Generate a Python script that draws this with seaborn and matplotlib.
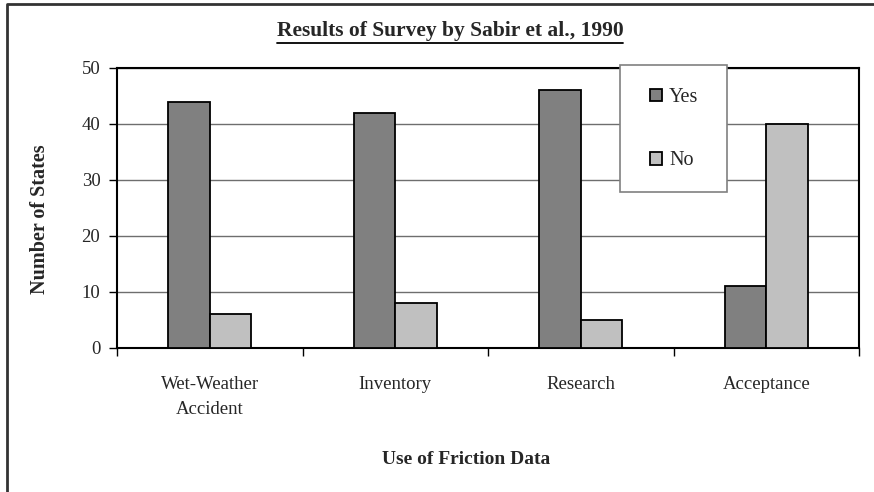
import pandas as pd
import matplotlib
matplotlib.use('Agg')
import matplotlib.pyplot as plt
from matplotlib.lines import Line2D
from matplotlib.patches import Rectangle
import seaborn as sns

# Values
categories = ['Wet-Weather\nAccident', 'Inventory', 'Research', 'Acceptance']
yes_counts = [44, 42, 46, 11]
no_counts = [6, 8, 5, 40]
series = ['Yes', 'No']
yticks = [0, 10, 20, 30, 40, 50]

df = pd.DataFrame({
    'use': categories * 2,
    'answer': ['Yes'] * 4 + ['No'] * 4,
    'states': yes_counts + no_counts,
})

sns.set_style('white')
plt.rcParams['font.family'] = ['Liberation Serif', 'DejaVu Serif']

fig = plt.figure(figsize=(8.74, 4.92), dpi=100)
ax = fig.add_axes([117 / 874, 1 - 348 / 492, 742 / 874, 280 / 492])

sns.barplot(data=df, x='use', y='states', hue='answer', hue_order=series,
            order=categories, palette=['#808080', '#c0c0c0'], width=0.45,
            edgecolor='black', linewidth=1.3, saturation=1, ax=ax, zorder=3)

ax.set_xlim(-0.5, 3.5)
ax.set_ylim(0, 50)
ax.set_yticks(yticks)
ax.yaxis.grid(True, color='#6e6e6e', linewidth=1, zorder=0)
ax.set_axisbelow(True)
for s in ax.spines.values():
    s.set_color('black')
    s.set_linewidth(1.5)

ax.tick_params(axis='y', direction='out', length=6, width=1, color='black',
               labelsize=13.5, pad=6, left=True)
ax.set_xticks(range(4))
ax.set_xticks([-0.5, 0.5, 1.5, 2.5, 3.5], minor=True)
ax.tick_params(axis='x', which='major', length=0, labelsize=13.5, pad=20)
ax.tick_params(axis='x', which='minor', direction='out', length=6, width=1,
               color='black', bottom=True)
for lbl in ax.get_xticklabels():
    lbl.set_linespacing(1.6)
ax.set_xlabel('')
ax.set_ylabel('')

# legend: plain entries plus a grey box drawn behind them
leg = ax.legend(loc='upper left', bbox_to_anchor=(650 / 874, 1 - 88 / 492),
                bbox_transform=fig.transFigure, borderaxespad=0, borderpad=0,
                frameon=False, fontsize=14.5, handlelength=0.6,
                handleheight=0.6, handletextpad=0.35, labelspacing=2.2,
                title=None)
leg.set_zorder(6)
ax.add_patch(Rectangle((620 / 874, 1 - 192 / 492), 107 / 874, 127 / 492,
                       transform=fig.transFigure, facecolor='white',
                       edgecolor='#808080', linewidth=1.2, clip_on=False,
                       zorder=5))

fig.text(450 / 874, 1 - 31 / 492, 'Results of Survey by Sabir et al., 1990',
         ha='center', va='center', fontsize=15.5, fontweight='bold')
fig.text(466 / 874, 1 - 460 / 492, 'Use of Friction Data',
         ha='center', va='center', fontsize=14, fontweight='bold')
fig.text(40 / 874, 1 - 219 / 492, 'Number of States', rotation=90,
         ha='center', va='center', fontsize=14.5, fontweight='bold')

# underline for the title
fig.canvas.draw()
title = fig.texts[0]
bb = title.get_window_extent().transformed(fig.transFigure.inverted())
fig.add_artist(Line2D([bb.x0, bb.x1], [bb.y0 - 0.005, bb.y0 - 0.005],
                      transform=fig.transFigure, color='black', linewidth=1.3))

# outer chart border (left and top edges visible)
fig.add_artist(Line2D([7 / 874, 7 / 874, 1], [0, 1 - 4 / 492, 1 - 4 / 492],
                      transform=fig.transFigure, color='#333333', linewidth=2))

fig.savefig('out.png', dpi=100)
